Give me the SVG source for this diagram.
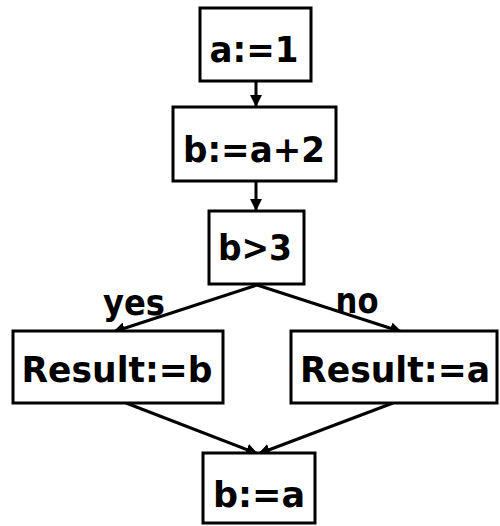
<svg xmlns="http://www.w3.org/2000/svg" width="500" height="526" viewBox="0 0 500 526">
<defs>
<style>
.box{fill:#fff;stroke:#000;stroke-width:3}
.t{font-family:"DejaVu Sans","Liberation Sans",sans-serif;font-weight:bold;font-size:36px;fill:#000;text-anchor:middle}
.c{stroke:#000;stroke-width:3;fill:none;marker-end:url(#ah)}
</style>
<marker id="ah" viewBox="0 0 10 10" refX="10" refY="5" markerWidth="12" markerHeight="12" markerUnits="userSpaceOnUse" orient="auto">
<path d="M0,0 L10,5 L0,10 z" fill="#000"/>
</marker>
</defs>
<rect width="500" height="526" fill="#fff"/>
<g id="connectors">
<line class="c" x1="256" y1="81" x2="256" y2="107"/>
<line class="c" x1="256" y1="181" x2="256" y2="211"/>
<line class="c" x1="257" y1="285" x2="113" y2="332"/>
<line class="c" x1="257" y1="285" x2="402" y2="332"/>
<line class="c" x1="126" y1="403" x2="258" y2="454"/>
<line class="c" x1="393" y1="403" x2="258" y2="454"/>
</g>
<g id="n1"><rect class="box" x="200" y="8" width="111" height="73"/><text class="t" x="254" y="62" textLength="89" lengthAdjust="spacingAndGlyphs">a:=1</text></g>
<g id="n2"><rect class="box" x="173" y="107" width="163" height="74"/><text class="t" x="254" y="162" textLength="142" lengthAdjust="spacingAndGlyphs">b:=a+2</text></g>
<g id="n3"><rect class="box" x="209" y="211" width="95" height="73"/><text class="t" x="255" y="260" textLength="74" lengthAdjust="spacingAndGlyphs">b&gt;3</text></g>
<g id="n4"><rect class="box" x="13" y="331" width="210" height="72"/><text class="t" x="117" y="382" textLength="191" lengthAdjust="spacingAndGlyphs">Result:=b</text></g>
<g id="n5"><rect class="box" x="291" y="331" width="206" height="72"/><text class="t" x="395" y="382" textLength="190" lengthAdjust="spacingAndGlyphs">Result:=a</text></g>
<g id="n6"><rect class="box" x="203" y="453" width="112" height="70"/><text class="t" x="259" y="507" textLength="92" lengthAdjust="spacingAndGlyphs">b:=a</text></g>
<g id="labels">
<text class="t" x="134" y="315" textLength="62" lengthAdjust="spacingAndGlyphs">yes</text>
<text class="t" x="357" y="313" textLength="43" lengthAdjust="spacingAndGlyphs">no</text>
</g>
</svg>
